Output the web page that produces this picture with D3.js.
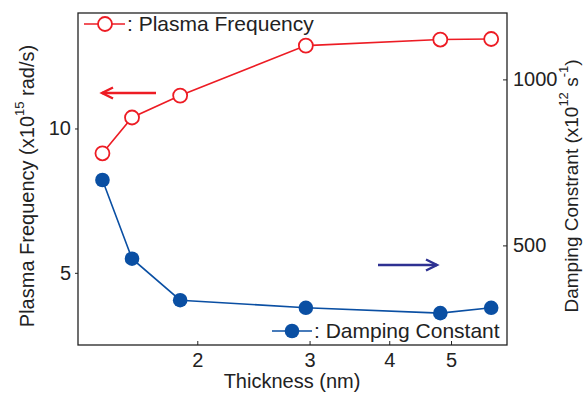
<!DOCTYPE html>
<html>
<head>
<meta charset="utf-8">
<script src="https://cdn.jsdelivr.net/npm/d3@7"></script>
<style>
  body { margin: 0; background: #fff; }
  text { font-family: "Liberation Sans", Arial, sans-serif; fill: #222; }
</style>
</head>
<body>
<div id="chart"></div>
<script>
// data
var thickness = [1.42, 1.58, 1.88, 2.96, 4.81, 5.78];
var plasmaFreq = [9.14, 10.38, 11.14, 12.87, 13.08, 13.1];
var dampingConst = [697, 460, 335, 312, 296, 312];
var xTicks = [2, 3, 4, 5];
var leftTicks = [5, 10];
var rightTicks = [500, 1000];

var W = 584, H = 393;
var margin = {top: 13, right: 77, bottom: 48, left: 78};
var width = W - margin.left - margin.right,
    height = H - margin.top - margin.bottom;

var red = "#ed1c24", blue = "#0a4fa3", navy = "#2e3192";

var svg = d3.select("#chart").append("svg")
    .attr("width", W)
    .attr("height", H);

var g = svg.append("g")
    .attr("transform", "translate(" + margin.left + "," + margin.top + ")");

var x = d3.scaleLog().domain([1.3, 6.12]).range([0, width]);
var yL = d3.scaleLinear().domain([2.5, 14]).range([height, 0]);
var yR = d3.scaleLinear().domain([200, 1200]).range([height, 0]);

// axes
var xAxis = d3.axisBottom(x).tickValues(xTicks).tickFormat(d3.format("d")).tickSizeInner(-4).tickSizeOuter(0).tickPadding(8);
var lAxis = d3.axisLeft(yL).tickValues(leftTicks).tickFormat(d3.format("d")).tickSizeInner(3).tickSizeOuter(0).tickPadding(4);
var rAxis = d3.axisRight(yR).tickValues(rightTicks).tickFormat(d3.format("d")).tickSizeInner(-4).tickSizeOuter(0).tickPadding(6);

g.append("g").attr("transform", "translate(0," + height + ")").call(xAxis);
g.append("g").call(lAxis);
g.append("g").attr("transform", "translate(" + width + ",0)").call(rAxis);

g.selectAll(".tick text").style("font-size", "20px").attr("fill", "#222");
g.selectAll(".domain").remove();
g.selectAll(".tick line").attr("stroke", "#222");

// frame
g.append("rect")
    .attr("width", width).attr("height", height)
    .attr("fill", "none").attr("stroke", "#222").attr("stroke-width", 1.3);

// plasma frequency
var lineL = d3.line().x(function(d, i) { return x(thickness[i]); }).y(function(d) { return yL(d); });
g.append("path").datum(plasmaFreq)
    .attr("d", lineL).attr("fill", "none").attr("stroke", red).attr("stroke-width", 1.6);
g.selectAll(".pf").data(plasmaFreq).enter().append("circle")
    .attr("cx", function(d, i) { return x(thickness[i]); })
    .attr("cy", function(d) { return yL(d); })
    .attr("r", 7).attr("fill", "#fff").attr("stroke", red).attr("stroke-width", 1.8);

// damping constant
var lineR = d3.line().x(function(d, i) { return x(thickness[i]); }).y(function(d) { return yR(d); });
g.append("path").datum(dampingConst)
    .attr("d", lineR).attr("fill", "none").attr("stroke", blue).attr("stroke-width", 1.6);
g.selectAll(".dc").data(dampingConst).enter().append("circle")
    .attr("cx", function(d, i) { return x(thickness[i]); })
    .attr("cy", function(d) { return yR(d); })
    .attr("r", 7.3).attr("fill", blue);

// arrows
function arrow(x1, x2, y, col, dir) {
    g.append("line").attr("x1", x1).attr("x2", x2).attr("y1", y).attr("y2", y)
        .attr("stroke", col).attr("stroke-width", 2.4);
    var tip = dir < 0 ? x1 : x2;
    g.append("path")
        .attr("d", "M" + (tip - dir * 11) + "," + (y - 5.5) + "L" + tip + "," + y + "L" + (tip - dir * 11) + "," + (y + 5.5))
        .attr("fill", "none").attr("stroke", col).attr("stroke-width", 2.4);
}
arrow(102 - margin.left, 156 - margin.left, 93 - margin.top, red, -1);
arrow(378 - margin.left, 437 - margin.left, 265 - margin.top, navy, 1);

// legends
var legL = svg.append("g");
legL.append("line").attr("x1", 84).attr("x2", 125).attr("y1", 24).attr("y2", 24)
    .attr("stroke", red).attr("stroke-width", 1.6);
legL.append("circle").attr("cx", 105).attr("cy", 24).attr("r", 7)
    .attr("fill", "#fff").attr("stroke", red).attr("stroke-width", 1.8);
legL.append("text").attr("x", 127).attr("y", 31).style("font-size", "21px").text(": Plasma Frequency");

var legR = svg.append("g");
legR.append("line").attr("x1", 272).attr("x2", 312).attr("y1", 331).attr("y2", 331)
    .attr("stroke", blue).attr("stroke-width", 1.6);
legR.append("circle").attr("cx", 292).attr("cy", 331).attr("r", 7.3).attr("fill", blue);
legR.append("text").attr("x", 314).attr("y", 338).style("font-size", "21px").text(": Damping Constant");

// axis titles
svg.append("text").attr("x", 292).attr("y", 388).attr("text-anchor", "middle")
    .style("font-size", "20px").text("Thickness (nm)");

var tl = svg.append("text").attr("transform", "translate(34,186) rotate(-90)")
    .attr("text-anchor", "middle").style("font-size", "20px");
tl.append("tspan").text("Plasma Frequency (x10");
tl.append("tspan").attr("dy", -10).style("font-size", "13px").text("15");
tl.append("tspan").attr("dy", 10).text(" rad/s)");

var tr = svg.append("text").attr("transform", "translate(578,186) rotate(-90)")
    .attr("text-anchor", "middle").style("font-size", "19px");
tr.append("tspan").text("Damping Constrant (x10");
tr.append("tspan").attr("dy", -10).style("font-size", "13px").text("12");
tr.append("tspan").attr("dy", 10).text(" s");
tr.append("tspan").attr("dy", -10).style("font-size", "13px").text("-1");
tr.append("tspan").attr("dy", 10).text(")");
</script>
</body>
</html>
